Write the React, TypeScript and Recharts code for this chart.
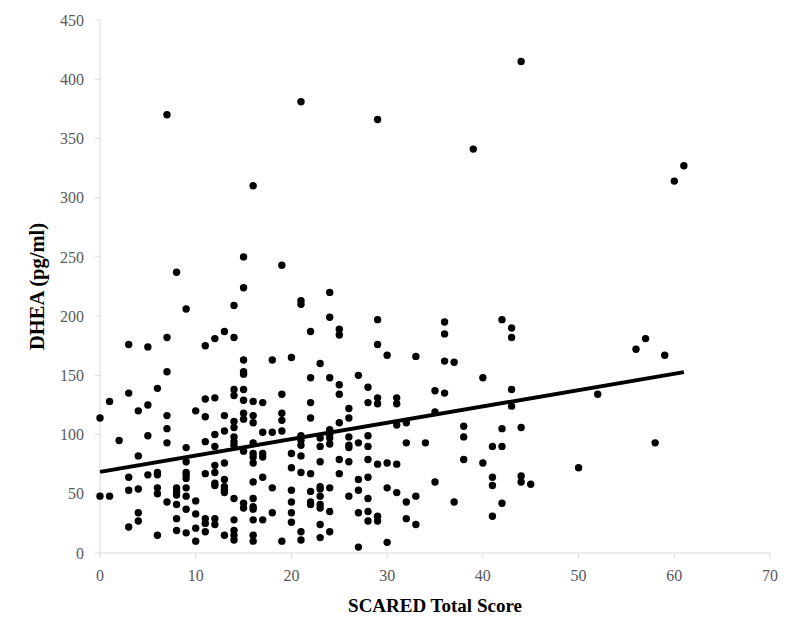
import React from "react";
import { ScatterChart, Scatter, XAxis, YAxis } from "recharts";

// SCARED total score (one entry per column of dots)
const scoreColumns: number[] = [
    0, 1, 2, 3, 4, 5, 6, 7, 8, 9, 10, 11, 12, 13, 14, 15, 16, 17, 18, 19, 20,
    21, 22, 23, 24, 25, 26, 27, 28, 29, 30, 31, 32, 33, 34, 35, 36, 37, 38, 39,
    40, 41, 42, 43, 44, 45, 50, 52, 56, 57, 58, 59, 60, 61,
];

// DHEA (pg/ml) values observed at each score above
const dheaColumns: number[][] = [
    [114, 48],
    [128, 48],
    [95],
    [176, 135, 64, 53, 22],
    [120, 82, 54, 34, 27],
    [174, 125, 99, 66],
    [139, 68, 66, 55, 50, 15],
    [370, 182, 153, 116, 105, 93, 43],
    [237, 55, 52, 49, 41, 29, 19],
    [206, 89, 77, 68, 66, 63, 55, 48, 37, 17],
    [120, 44, 33, 21, 10],
    [175, 130, 115, 94, 67, 29, 25, 18],
    [181, 131, 100, 90, 74, 68, 59, 57, 29, 24],
    [187, 116, 103, 76, 62, 56, 53, 51, 15],
    [209, 182, 138, 133, 111, 106, 98, 94, 91, 46, 28, 19, 15, 11],
    [250, 224, 163, 153, 151, 138, 129, 118, 113, 86, 42, 38],
    [310, 128, 116, 110, 93, 84, 81, 76, 60, 46, 39, 37, 28, 15, 10],
    [127, 102, 84, 81, 64, 28],
    [163, 102, 55, 34],
    [243, 134, 118, 112, 103, 10],
    [165, 84, 72, 53, 43, 34, 26],
    [381, 213, 210, 99, 95, 91, 82, 68, 18, 11],
    [187, 148, 127, 114, 67, 52, 43, 41],
    [160, 97, 90, 77, 56, 54, 48, 41, 38, 24, 13],
    [220, 199, 148, 104, 100, 97, 92, 55, 35, 18],
    [189, 184, 142, 134, 110, 79, 67],
    [122, 114, 98, 91, 89, 77, 48],
    [150, 93, 62, 53, 34, 5],
    [140, 127, 99, 90, 79, 64, 46, 35, 27],
    [366, 197, 176, 131, 126, 75, 31, 27],
    [167, 76, 55, 9],
    [131, 126, 108, 75, 51],
    [110, 93, 43, 29],
    [166, 48, 24],
    [93],
    [137, 119, 60],
    [195, 185, 162, 135],
    [161, 43],
    [107, 98, 79],
    [341],
    [148, 76],
    [90, 64, 57, 31],
    [197, 105, 90, 42],
    [190, 182, 138, 124],
    [415, 106, 65, 60],
    [58],
    [72],
    [134],
    [172],
    [181],
    [93],
    [167],
    [314],
    [327],
];

// linear trend line end points
const trendScores = [0, 61];
const trendDhea = [68.5, 152.7];

const xTicks = [0, 10, 20, 30, 40, 50, 60, 70];
const yTicks = [0, 50, 100, 150, 200, 250, 300, 350, 400, 450];

const points = scoreColumns.flatMap((score, i) =>
    dheaColumns[i].map((dhea) => ({ score, dhea }))
);
const trend = trendScores.map((score, i) => ({ score, dhea: trendDhea[i] }));

const FONT = "'Liberation Serif', 'Times New Roman', serif";
const AXIS_GREY = "#d9d9d9";
const tickStyle = { fill: "#595959", fontSize: 16, fontFamily: FONT };

const Dot = (props: any) => {
    const { cx, cy } = props;
    if (cx == null || cy == null) return <g />;
    return <circle cx={cx} cy={cy} r={3.7} fill="#000" />;
};

const XLabel = ({ viewBox }: any) => (
    <text
        x={viewBox.x + viewBox.width / 2}
        y={viewBox.y + 59}
        textAnchor="middle"
        fontFamily={FONT}
        fontWeight="bold"
        fontSize={19}
        fill="#000"
    >
        SCARED Total Score
    </text>
);

const YLabel = ({ viewBox }: any) => {
    const cx = 37;
    const cy = viewBox.y + viewBox.height / 2;
    return (
        <text
            x={cx}
            y={cy}
            transform={`rotate(-90, ${cx}, ${cy})`}
            textAnchor="middle"
            dominantBaseline="central"
            fontFamily={FONT}
            fontWeight="bold"
            fontSize={20.5}
            fill="#000"
        >
            DHEA (pg/ml)
        </text>
    );
};

const App = () => {
    return (
        <div style={{ position: "absolute", left: 0, top: 0, width: 800, height: 642, background: "#fff", fontFamily: FONT }}>
            <ScatterChart width={800} height={642} margin={{ top: 20, right: 30, left: 0, bottom: 0 }}>
                <XAxis
                    type="number"
                    dataKey="score"
                    domain={[0, 70]}
                    ticks={xTicks}
                    interval={0}
                    height={89}
                    axisLine={{ stroke: AXIS_GREY }}
                    tickLine={{ stroke: AXIS_GREY }}
                    tickSize={5}
                    tickMargin={12}
                    tick={tickStyle}
                    label={<XLabel />}
                />
                <YAxis
                    type="number"
                    dataKey="dhea"
                    domain={[0, 450]}
                    ticks={yTicks}
                    interval={0}
                    width={100}
                    axisLine={{ stroke: AXIS_GREY }}
                    tickLine={{ stroke: AXIS_GREY }}
                    tickSize={5}
                    tickMargin={11}
                    tick={tickStyle}
                    label={<YLabel />}
                />
                <Scatter data={points} shape={<Dot />} isAnimationActive={false} />
                <Scatter
                    data={trend}
                    line={{ stroke: "#000", strokeWidth: 4 }}
                    shape={() => <g />}
                    isAnimationActive={false}
                />
            </ScatterChart>
        </div>
    );
};

export default App;
